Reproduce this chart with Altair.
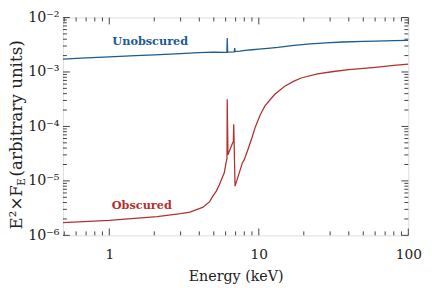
import altair as alt
import pandas as pd

# ---------------- data ----------------
unobs_E = [0.49, 0.7, 1.0, 1.5, 2.0, 3.0, 4.0, 5.0, 6.0, 6.12, 6.15, 6.19, 6.85, 6.9, 6.95,
           7.1, 7.5, 8.1, 9.0, 10.0, 11.5, 13.4, 15.2, 17.2, 19.5, 22.1, 25.0, 28.0, 36.5,
           50.0, 60.4, 80.0, 100.0]
unobs_F = [1.72e-3, 1.81e-3, 1.90e-3, 1.99e-3, 2.07e-3, 2.18e-3, 2.26e-3, 2.31e-3, 2.30e-3,
           2.30e-3, 4.2e-3, 2.32e-3, 2.35e-3, 2.75e-3, 2.37e-3,
           2.38e-3, 2.42e-3, 2.50e-3, 2.56e-3, 2.62e-3, 2.71e-3, 2.82e-3, 2.95e-3, 3.07e-3,
           3.18e-3, 3.28e-3, 3.36e-3, 3.43e-3, 3.55e-3,
           3.65e-3, 3.70e-3, 3.76e-3, 3.80e-3]

obs_E = [0.49, 1.0, 2.09, 3.0, 3.46, 4.0, 4.24, 4.69, 4.94, 5.2, 5.45, 5.7, 5.88, 6.03,
         6.13, 6.15, 6.22, 6.45, 6.67, 6.76, 6.8, 6.94, 7.4, 7.76, 8.0, 8.5, 9.0, 9.47,
         10.2, 11.0, 12.8, 14.9, 17.2, 19.2, 24.7, 31.7, 40.0, 60.4, 80.0, 100.0]
obs_F = [1.71e-6, 1.89e-6, 2.2e-6, 2.5e-6, 2.67e-6, 3.1e-6, 3.29e-6, 4.15e-6, 5.3e-6, 6.5e-6,
         8.5e-6, 1.15e-5, 1.41e-5, 2.1e-5,
         2.6e-5, 3.16e-4, 3.0e-5, 3.9e-5, 4.9e-5, 5.3e-5, 1.09e-4, 8.0e-6, 1.4e-5, 2.13e-5,
         2.45e-5, 3.9e-5, 6.2e-5, 9.7e-5,
         1.6e-4, 2.39e-4, 3.89e-4, 5.48e-4, 6.8e-4, 7.75e-4, 9.27e-4, 1.02e-3, 1.1e-3,
         1.22e-3, 1.32e-3, 1.40e-3]

series_names = ["Unobscured", "Obscured"]
series_colors = ["#1b5b8f", "#b3312d"]
label_E = [1.88, 1.65]
label_F = [3.6e-3, 3.45e-6]

x_major = [1, 10, 100]
x_minor = [0.5, 0.6, 0.7, 0.8, 0.9, 2, 3, 4, 5, 6, 7, 8, 9, 20, 30, 40, 50, 60, 70, 80, 90]
y_major = [1e-6, 1e-5, 1e-4, 1e-3, 1e-2]
y_minor = [k * 10.0 ** e for e in range(-6, -2) for k in range(2, 10)]

x_title = "Energy (keV)"
y_title_parts = ["E²×F", "E", " (arbitrary units)"]

# ---------------- layout ----------------
W, H = 352, 222
FONT = "DejaVu Serif"
FRAME = "#404040"
TXT = "#222222"

df = pd.concat([
    pd.DataFrame({"E": unobs_E, "F": unobs_F, "s": series_names[0]}),
    pd.DataFrame({"E": obs_E, "F": obs_F, "s": series_names[1]}),
])
lab = pd.DataFrame({"E": label_E, "F": label_F, "s": series_names})

xs = alt.Scale(type="log", domain=[0.49, 100])
ys = alt.Scale(type="log", domain=[1e-6, 1e-2])

xaxis = alt.Axis(values=x_major, labelExpr="format(datum.value, 'd')", ticks=False,
                 domain=False, grid=False, title=x_title, labelPadding=13,
                 labelFont=FONT, labelFontSize=14, labelColor=TXT, titleFont=FONT,
                 titleFontSize=14.5, titleFontWeight="normal", titleColor=TXT,
                 titlePadding=8, labelFlush=False)
yaxis = alt.Axis(values=y_major,
                 labelExpr="datum.value > 0.005 ? '10⁻²' : datum.value > 0.0005 ? '10⁻³' : "
                           "datum.value > 0.00005 ? '10⁻⁴' : datum.value > 0.000005 ? '10⁻⁵' : '10⁻⁶'",
                 ticks=False, domain=False, grid=False, title=None, labelPadding=4,
                 labelFont=FONT, labelFontSize=14.5, labelColor=TXT, labelFlush=False)

color = alt.Color("s:N", scale=alt.Scale(domain=series_names, range=series_colors), legend=None)

lines = alt.Chart(df).mark_line(strokeWidth=1.3, clip=True).encode(
    x=alt.X("E:Q", scale=xs, axis=xaxis),
    y=alt.Y("F:Q", scale=ys, axis=yaxis),
    color=color,
    detail="s:N",
)

labels = alt.Chart(lab).mark_text(font=FONT, fontSize=11.5, fontWeight="bold").encode(
    x=alt.X("E:Q", scale=xs, axis=xaxis),
    y=alt.Y("F:Q", scale=ys, axis=yaxis),
    text="s:N",
    color=color,
)


def xticks(vals, length):
    d = pd.DataFrame({"E": vals})
    b = alt.Chart(d).mark_rule(color=FRAME, strokeWidth=1).encode(
        x=alt.X("E:Q", scale=xs, axis=xaxis), y=alt.value(H), y2=alt.value(H - length))
    t = alt.Chart(d).mark_rule(color=FRAME, strokeWidth=1).encode(
        x=alt.X("E:Q", scale=xs, axis=xaxis), y=alt.value(0), y2=alt.value(length))
    return [b, t]


def yticks(vals, length):
    d = pd.DataFrame({"F": vals})
    l = alt.Chart(d).mark_rule(color=FRAME, strokeWidth=1).encode(
        y=alt.Y("F:Q", scale=ys, axis=yaxis), x=alt.value(0), x2=alt.value(length))
    r = alt.Chart(d).mark_rule(color=FRAME, strokeWidth=1).encode(
        y=alt.Y("F:Q", scale=ys, axis=yaxis), x=alt.value(W), x2=alt.value(W - length))
    return [l, r]


ticks = xticks(x_major, 7) + xticks(x_minor, 4) + yticks(y_major, 7) + yticks(y_minor, 4)

# y-axis title, built from pieces so that the subscript E can be drawn
TS = 17
yt1 = alt.Chart(pd.DataFrame({"t": [y_title_parts[0]]})).mark_text(
    font=FONT, fontSize=TS, angle=270, align="left", baseline="middle", color=TXT).encode(
    x=alt.value(-47), y=alt.value(216), text="t:N")
yt2 = alt.Chart(pd.DataFrame({"t": [y_title_parts[1]]})).mark_text(
    font=FONT, fontSize=10.5, angle=270, align="left", baseline="middle", color=TXT).encode(
    x=alt.value(-41.5), y=alt.value(171.5), text="t:N")
yt3 = alt.Chart(pd.DataFrame({"t": [y_title_parts[2]]})).mark_text(
    font=FONT, fontSize=TS, angle=270, align="left", baseline="middle", color=TXT).encode(
    x=alt.value(-47), y=alt.value(162), text="t:N")

chart = alt.layer(lines, labels, *ticks, yt1, yt2, yt3).properties(
    width=W, height=H,
    padding={"left": 56, "top": 7, "right": 16, "bottom": 52},
    autosize=alt.AutoSizeParams(type="none"),
).configure_view(stroke=FRAME, strokeWidth=1.8).configure(background="white")

chart.save("out.html", embed_options={"renderer": "svg", "actions": False})
